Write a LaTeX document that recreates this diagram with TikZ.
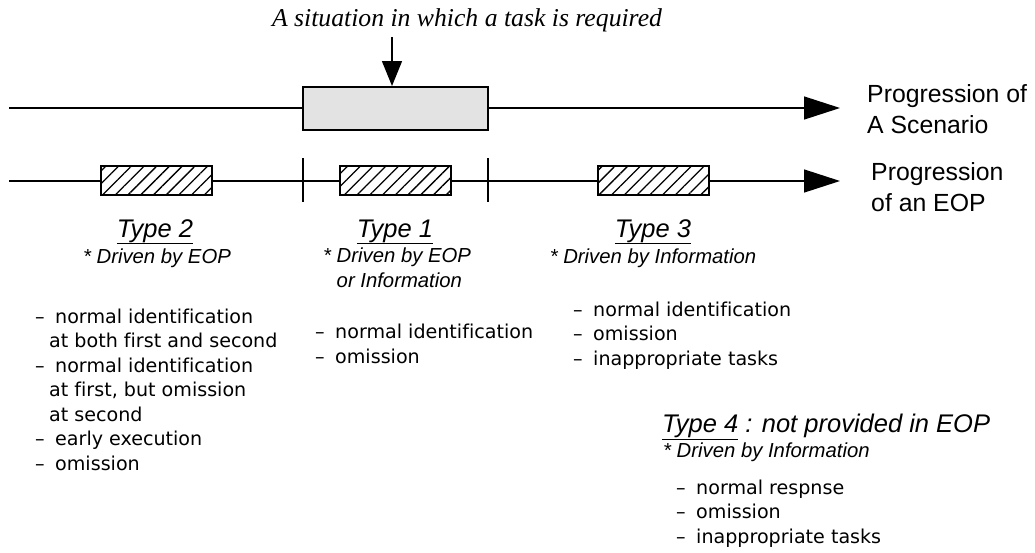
\documentclass[tikz,border=0pt]{standalone}
\usepackage{fontspec}
\setmainfont{Liberation Sans}
\newfontfamily\titlefont{Liberation Serif}
\newfontfamily\listfont[Ligatures=NoCommon]{DejaVu Sans}
\usetikzlibrary{arrows.meta, patterns.meta}
\newcommand{\dashitem}{\makebox[20pt][l]{–}}
\newcommand{\hangline}{\hspace*{14pt}}
\tikzset{
  timeline/.style   = {-{Triangle[length=36pt,width=23pt]}, line width=1.4pt},
  dropline/.style   = {-{Triangle[length=25pt,width=20pt]}, line width=1.4pt},
  divider/.style    = {line width=1.4pt},
  taskbox/.style    = {draw, line width=2pt, minimum width=185pt,
                       minimum height=43pt, inner sep=0pt, fill=black!11},
  eopbox/.style     = {draw, line width=1.8pt, minimum width=111pt,
                       minimum height=29pt, inner sep=0pt, preaction={fill=white},
                       pattern={Lines[angle=45,distance=9pt,line width=1.3pt]}},
  typelabel/.style  = {inner sep=0pt, anchor=base,
                       font=\fontsize{25.5}{29}\selectfont\itshape},
  drivenlabel/.style= {inner sep=0pt, anchor=base,
                       font=\fontsize{20.3}{24.5}\selectfont\itshape},
  errlist/.style    = {inner sep=0pt, align=left, anchor=base west,
                       font=\listfont\fontsize{19.1}{24.5}\selectfont},
  proglabel/.style  = {inner sep=0pt, align=left, anchor=base west,
                       font=\fontsize{24.8}{30.5}\selectfont},
}

\begin{document}
\begin{tikzpicture}[x=1pt, y=-1pt]
    \useasboundingbox (0,0) rectangle (1035,552);

    % --- scenario line ------------------------------------------------------
    \coordinate (scnstart) at (9,108);
    \coordinate (scnend) at (840,108);
    \draw[timeline] (scnstart) -- (scnend);
    \node[taskbox] (task) at (395.5,108.5) {};
    \node[inner sep=0pt, anchor=base, font=\titlefont\fontsize{25.7}{29}\selectfont\itshape]
      (situation) at (467,26) {A situation in which a task is required};
    \coordinate (droptop) at (392,37);
    \draw[dropline] (droptop) -- (droptop |- task.north);
    % base of a two-line node = last line
    \node[proglabel] (scnlabel) at (867,133) {Progression of\\A Scenario};

    % --- EOP line -----------------------------------------------------------
    \coordinate (eopstart) at (9,181);
    \coordinate (eopend) at (840,181);
    \draw[timeline] (eopstart) -- (eopend);
    \foreach \x in {303,488}
      \draw[divider] (\x,158) -- (\x,202);
    \node[eopbox] (eop2) at (156.5,180.5) {};
    \node[eopbox] (eop1) at (395.5,180.5) {};
    \node[eopbox] (eop3) at (653.5,180.5) {};
    \node[proglabel] (eoplabel) at (871,211) {Progression\\of an EOP};

    % --- task types ---------------------------------------------------------
    \node[typelabel] (type2) at (155,237) {\underline{Type 2}};
    \node[drivenlabel] (drv2) at (157,263) {* Driven by EOP};
    \node[typelabel] (type1) at (395,237) {\underline{Type 1}};
    \node[drivenlabel, align=left, anchor=base west] (drv1) at (323,287)
      {* Driven by EOP\\\hphantom{* }or Information};
    \node[typelabel] (type3) at (653,237) {\underline{Type 3}};
    \node[drivenlabel] (drv3) at (653,263) {* Driven by Information};
    \node[typelabel, anchor=base west] (type4) at (662,432)
      {\underline{Type 4} : not provided in EOP};
    \node[drivenlabel, anchor=base west] (drv4) at (663,457) {* Driven by Information};

    % --- error lists (anchored at last baseline) ----------------------------
    \node[errlist] (err2) at (35,470)
      {\dashitem normal identification\\
       \hangline at both first and second\\
       \dashitem normal identification\\
       \hangline at first, but omission\\
       \hangline at second\\
       \dashitem early execution\\
       \dashitem omission};
    \node[errlist] (err1) at (315,363)
      {\dashitem normal identification\\
       \dashitem omission};
    \node[errlist] (err3) at (573,365)
      {\dashitem normal identification\\
       \dashitem omission\\
       \dashitem inappropriate tasks};
    \node[errlist] (err4) at (676,543)
      {\dashitem normal respnse\\
       \dashitem omission\\
       \dashitem inappropriate tasks};
\end{tikzpicture}
\end{document}
